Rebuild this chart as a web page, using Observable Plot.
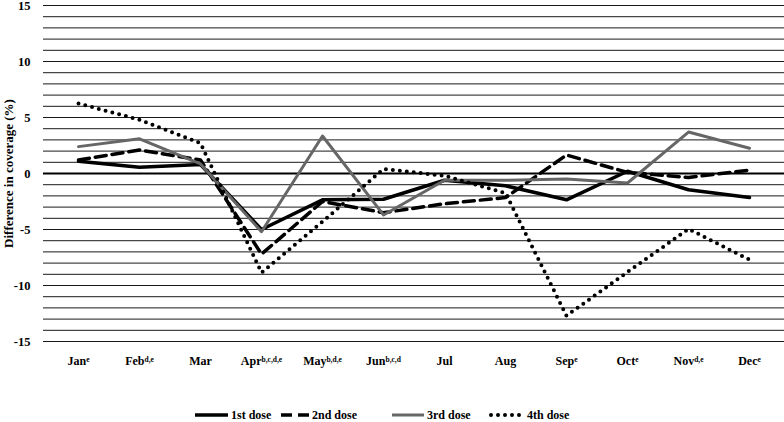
<!DOCTYPE html>
<html>
<head>
<meta charset="utf-8">
<script src="https://cdn.jsdelivr.net/npm/d3@7"></script>
<script src="https://cdn.jsdelivr.net/npm/@observablehq/plot@0.6"></script>
<style>
  html, body { margin: 0; padding: 0; background: #fff; }
  #wrap { width: 784px; font-family: "Liberation Serif", "Times New Roman", serif; font-weight: bold; }
  #legend { position: relative; width: 784px; height: 27px; }
</style>
</head>
<body>
<div id="wrap">
  <div id="chart"></div>
  <div id="legend"></div>
</div>
<script>
const months = ["Jan","Feb","Mar","Apr","May","Jun","Jul","Aug","Sep","Oct","Nov","Dec"];
const sups   = ["e","d,e","","b,c,d,e","b,d,e","b,c,d","","","e","e","d,e","e"];
const doses  = ["1st dose","2nd dose","3rd dose","4th dose"];
const dose1 = [1.1, 0.55, 0.8, -5.0, -2.35, -2.3, -0.6, -1.1, -2.35, 0.2, -1.45, -2.15];
const dose2 = [1.2, 2.1, 1.2, -7.2, -2.5, -3.5, -2.7, -2.15, 1.65, 0.1, -0.35, 0.3];
const dose3 = [2.4, 3.1, 0.85, -5.2, 3.35, -3.7, -0.6, -0.6, -0.5, -0.85, 3.7, 2.25];
const dose4 = [6.25, 4.8, 2.7, -8.85, -4.3, 0.4, -0.2, -1.75, -12.7, -8.8, -4.95, -7.7];
const yTicks = [-15, -10, -5, 0, 5, 10, 15];
const yLabel = "Difference in coverage (%)";

const series = [dose1, dose2, dose3, dose4];
const rows = (vals) => months.map((m, i) => ({month: m, value: vals[i]}));

const styles = [
  {stroke: "#000", strokeWidth: 3.5},
  {stroke: "#000", strokeWidth: 3.5, strokeDasharray: "11,6"},
  {stroke: "#666", strokeWidth: 3},
  {stroke: "#000", strokeWidth: 4, strokeDasharray: "0,7", strokeLinecap: "round"}
];

const font = '"Liberation Serif", "Times New Roman", serif';

const chart = Plot.plot({
  width: 784,
  height: 395,
  marginLeft: 43,
  marginRight: 0,
  marginTop: 5,
  marginBottom: 54,
  style: {fontFamily: font, fontWeight: "bold", fontSize: "12px", background: "#fff"},
  x: {type: "point", domain: months, padding: 0.5, label: null},
  y: {domain: [-15, 15], label: null},
  marks: [
    Plot.ruleY(d3.range(-15, 16), {stroke: "#000", strokeWidth: 1, strokeOpacity: 0.9}),
    Plot.ruleY([0], {stroke: "#000", strokeWidth: 2}),
    Plot.axisX({tickSize: 0, tickPadding: 15, fontSize: 12, fontWeight: "bold"}),
    Plot.axisY({ticks: yTicks, tickSize: 0, tickPadding: 13, tickFormat: d => String(d), fontSize: 12.5, fontWeight: "bold", dy: 0.5}),
    Plot.text([yLabel], {frameAnchor: "left", textAnchor: "middle", rotate: -90, dx: -35, fontSize: 13, fontWeight: "bold", fill: "#000"}),
    ...series.map((vals, i) => Plot.line(rows(vals), {x: "month", y: "value", ...styles[i]}))
  ]
});
document.getElementById("chart").appendChild(chart);

// add superscripts to month labels
d3.select(chart).selectAll('g[aria-label="x-axis tick label"] text').each(function() {
  const t = d3.select(this);
  const m = t.text();
  const i = months.indexOf(m);
  if (i < 0 || !sups[i]) return;
  t.text(null);
  t.append("tspan").text(m);
  t.append("tspan").attr("font-size", "7.5px").attr("dy", "-0.45em").text(sups[i]);
});

// legend
const leg = d3.select("#legend").append("svg").attr("width", 784).attr("height", 27)
  .style("font-family", font).style("font-weight", "bold").style("font-size", "12px");
const legX = [[195, 231], [281, 312], [392, 427], [491, 527]];
doses.forEach((name, i) => {
  const [x0, tx] = legX[i];
  const s = styles[i];
  leg.append("line").attr("x1", x0).attr("x2", tx - 3).attr("y1", 20).attr("y2", 20)
    .attr("stroke", s.stroke).attr("stroke-width", s.strokeWidth)
    .attr("stroke-dasharray", s.strokeDasharray || null)
    .attr("stroke-linecap", s.strokeLinecap || "butt");
  leg.append("text").attr("x", tx).attr("y", 24).text(name);
});
</script>
</body>
</html>
